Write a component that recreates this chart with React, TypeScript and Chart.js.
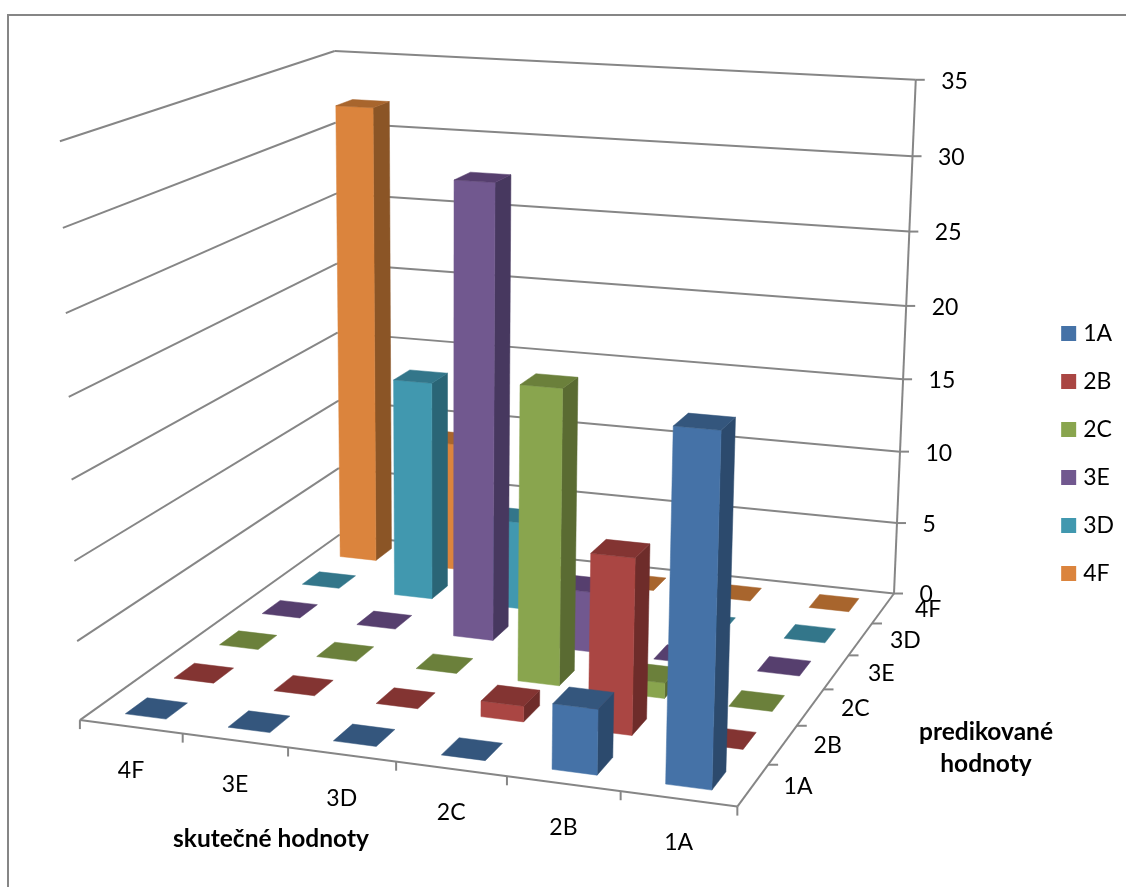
import React, { useEffect, useRef } from "react";
import { Chart, registerables, DatasetController, Element } from "chart.js";

// Columns along the front edge and rows going into the depth of the chart.
const categories = ["4F", "3E", "3D", "2C", "2B", "1A"];
const seriesNames = ["1A", "2B", "2C", "3E", "3D", "4F"];

const values1A = [0, 0, 0, 0, 4, 21];
const values2B = [0, 0, 0, 1, 11, 0];
const values2C = [0, 0, 0, 19, 1, 0];
const values3E = [0, 0, 30, 4, 0, 0];
const values3D = [0, 15, 6, 0, 0, 0];
const values4F = [32, 9, 0, 0, 0, 0];
const seriesValues = [values1A, values2B, values2C, values3E, values3D, values4F];

const faceColors = ["#4572A7", "#AA4643", "#89A54E", "#71588F", "#4198AF", "#DB843D"];
const topColors = ["#34567D", "#833432", "#6B803B", "#563F6E", "#33768A", "#A8652D"];
const sideColors = ["#2C4A6D", "#6E2C2A", "#5A6B32", "#47385F", "#2A6576", "#8B5526"];

const valueMax = 35;
const valueStep = 5;
const xTitle = "skutečné hodnoty";
const depthTitle = ["predikované", "hodnoty"];

const FONT = "Lato";
const GRID = "#868686";
const BAR_FILL_X = 0.4;
const BAR_SHIFT_X = 0.001;
const BAR_FILL_D = 0.44;

// Where the corners of the unit box land on the canvas; the camera is fitted to them.
const boxCorners: number[][] = [
  [0, 0, 0, 82, 720],
  [1, 0, 0, 737, 807],
  [1, 1, 0, 895, 593],
  [0, 1, 0, 337, 535],
  [0, 0, 1, 58, 141],
  [0, 1, 1, 337, 51],
  [1, 1, 1, 915, 80],
];

function solve(a: number[][], b: number[]): number[] {
  const n = b.length;
  const m = a.map((r, i) => [...r, b[i]]);
  for (let c = 0; c < n; c++) {
    let p = c;
    for (let r = c + 1; r < n; r++) if (Math.abs(m[r][c]) > Math.abs(m[p][c])) p = r;
    [m[c], m[p]] = [m[p], m[c]];
    for (let r = 0; r < n; r++) {
      if (r === c) continue;
      const f = m[r][c] / m[c][c];
      for (let k = c; k <= n; k++) m[r][k] -= f * m[c][k];
    }
  }
  return m.map((r, i) => r[n] / r[i]);
}

// Least-squares projective camera: p holds the 11 free terms of the 3x4 matrix.
function fitCamera(points: number[][]): number[] {
  const rows: number[][] = [];
  const rhs: number[] = [];
  for (const [x, y, z, u, v] of points) {
    rows.push([x, y, z, 1, 0, 0, 0, 0, -u * x, -u * y, -u * z]);
    rhs.push(u);
    rows.push([0, 0, 0, 0, x, y, z, 1, -v * x, -v * y, -v * z]);
    rhs.push(v);
  }
  const ata = Array.from({ length: 11 }, (_, i) =>
    Array.from({ length: 11 }, (_, j) => rows.reduce((s, r) => s + r[i] * r[j], 0))
  );
  const atb = Array.from({ length: 11 }, (_, i) => rows.reduce((s, r, k) => s + r[i] * rhs[k], 0));
  return solve(ata, atb);
}

const cam = fitCamera(boxCorners);

function project(x: number, y: number, z: number): [number, number] {
  const w = cam[8] * x + cam[9] * y + cam[10] * z + 1;
  return [
    (cam[0] * x + cam[1] * y + cam[2] * z + cam[3]) / w,
    (cam[4] * x + cam[5] * y + cam[6] * z + cam[7]) / w,
  ];
}

// Scale readings as fractions of the box, so that the scales stay the source of every position.
const unitX = (s: any, v: number) => (s.getPixelForValue(v) - s.left) / s.width;
const unitZ = (s: any, v: number) => (s.bottom - s.getPixelForValue(v)) / s.height;

function fillPoly(ctx: CanvasRenderingContext2D, pts: [number, number][], color: string) {
  ctx.beginPath();
  pts.forEach(([a, b], i) => (i ? ctx.lineTo(a, b) : ctx.moveTo(a, b)));
  ctx.closePath();
  ctx.fillStyle = color;
  ctx.fill();
  ctx.strokeStyle = color;
  ctx.lineWidth = 0.5;
  ctx.stroke();
}

class Prism3D extends Element {
  static id = "prism3d";
  static defaults = {};
  faces: { pts: [number, number][]; color: string }[] = [];
  draw(ctx: CanvasRenderingContext2D) {
    ctx.save();
    for (const f of this.faces) fillPoly(ctx, f.pts, f.color);
    ctx.restore();
  }
}

class Bar3DController extends DatasetController {
  static id = "bar3d";
  static defaults = { dataElementType: "prism3d", datasetElementType: false };
  update() {
    const chart: any = this.chart;
    const { x: xs, y: ys, depth: ds } = chart.scales;
    const row = this.index;
    const meta: any = this.getMeta();
    const halfX = (BAR_FILL_X / 2) * (unitX(xs, 1) - unitX(xs, 0));
    const halfD = (BAR_FILL_D / 2) * (unitX(ds, 1) - unitX(ds, 0));
    const dc = unitX(ds, row);
    meta.data.forEach((el: any, i: number) => {
      const parsed = meta._parsed[i];
      const xc = unitX(xs, parsed.x) + BAR_SHIFT_X;
      const h = unitZ(ys, parsed.y);
      const x0 = xc - halfX, x1 = xc + halfX, d0 = dc - halfD, d1 = dc + halfD;
      const faces: { pts: [number, number][]; color: string }[] = [];
      if (h > 0) {
        faces.push({
          pts: [project(x1, d0, 0), project(x1, d1, 0), project(x1, d1, h), project(x1, d0, h)],
          color: sideColors[row],
        });
        faces.push({
          pts: [project(x0, d0, 0), project(x1, d0, 0), project(x1, d0, h), project(x0, d0, h)],
          color: faceColors[row],
        });
      }
      faces.push({
        pts: [project(x0, d0, h), project(x1, d0, h), project(x1, d1, h), project(x0, d1, h)],
        color: topColors[row],
      });
      el.faces = faces;
    });
  }
}

const line = (ctx: CanvasRenderingContext2D, a: [number, number], b: [number, number]) => {
  ctx.beginPath();
  ctx.moveTo(a[0], a[1]);
  ctx.lineTo(b[0], b[1]);
  ctx.stroke();
};

// Frame, walls, floor edges and tick marks, all behind the bars.
const boxPlugin = {
  id: "box3d",
  beforeDatasetsDraw(chart: any) {
    const { ctx, scales } = chart;
    const { x: xs, y: ys, depth: ds } = scales;
    ctx.save();
    ctx.strokeStyle = GRID;
    ctx.lineCap = "butt";
    ctx.lineWidth = 2;
    ctx.beginPath();
    ctx.moveTo(8, 887);
    ctx.lineTo(8, 15);
    ctx.lineTo(1126, 15);
    ctx.stroke();

    for (const t of ys.ticks) {
      const z = unitZ(ys, t.value);
      line(ctx, project(0, 0, z), project(0, 1, z));
      line(ctx, project(0, 1, z), project(1, 1, z));
      const p = project(1, 1, z);
      line(ctx, p, [p[0] + 9, p[1]]);
    }
    line(ctx, project(1, 1, 0), project(1, 1, 1));
    line(ctx, project(0, 0, 0), project(1, 0, 0));
    line(ctx, project(1, 0, 0), project(1, 1, 0));

    const bandX = unitX(xs, 1) - unitX(xs, 0);
    const bandD = unitX(ds, 1) - unitX(ds, 0);
    for (let i = 0; i <= categories.length; i++) {
      const p = project(unitX(xs, i) - bandX / 2, 0, 0);
      line(ctx, p, [p[0], p[1] + 9]);
    }
    for (let i = 1; i < seriesNames.length; i++) {
      const p = project(1, unitX(ds, i) - bandD / 2, 0);
      line(ctx, p, [p[0] + 10, p[1]]);
    }
    ctx.restore();
  },
  afterDatasetsDraw(chart: any) {
    const { ctx, scales } = chart;
    const { x: xs, y: ys, depth: ds } = scales;
    ctx.save();
    ctx.fillStyle = "#000";
    ctx.textBaseline = "middle";
    ctx.font = `23px ${FONT}`;
    ctx.textAlign = "left";
    for (const t of ys.ticks) {
      const p = project(1, 1, unitZ(ys, t.value));
      ctx.fillText(String(t.value), p[0] + 25.5, p[1] + 1.5);
    }
    ctx.textAlign = "center";
    categories.forEach((c, i) => {
      const p = project(unitX(xs, i), 0, 0);
      ctx.fillText(c, p[0], p[1] + 44);
    });
    seriesNames.forEach((c, i) => {
      const p = project(1, unitX(ds, i), 0);
      ctx.fillText(c, p[0] + 45, p[1] + 1);
    });
    ctx.font = `bold 24.5px ${FONT}`;
    ctx.fillText(xTitle, 271, 839);
    ctx.fillText(depthTitle[0], 986, 732);
    ctx.fillText(depthTitle[1], 986, 764);
    ctx.restore();
  },
};

Chart.register(...registerables, Bar3DController, Prism3D);

export default function App() {
  const ref = useRef<HTMLCanvasElement>(null);
  useEffect(() => {
    const chart = new Chart(ref.current!, {
      type: "bar3d" as any,
      data: {
        labels: categories,
        datasets: seriesNames.map((name, i) => ({
          label: name,
          data: seriesValues[i],
          backgroundColor: faceColors[i],
          clip: false,
        })) as any,
      },
      plugins: [boxPlugin],
      options: {
        animation: false,
        responsive: false,
        events: [],
        layout: { padding: { top: 20, bottom: 0, left: 0, right: 2 } },
        scales: {
          x: { type: "category", display: false, offset: true },
          y: { type: "linear", display: false, min: 0, max: valueMax, ticks: { stepSize: valueStep } },
          depth: { axis: "x", type: "category", labels: seriesNames, display: false, offset: true },
        },
        plugins: {
          tooltip: { enabled: false },
          legend: {
            position: "right",
            labels: {
              boxWidth: 6,
              boxHeight: 6,
              padding: 25,
              color: "#000",
              font: { family: FONT, size: 23 },
              generateLabels: () =>
                seriesNames.map((name, i) => ({
                  text: name,
                  fillStyle: faceColors[i],
                  strokeStyle: faceColors[i],
                  lineWidth: 9,
                  datasetIndex: i,
                  hidden: false,
                })),
            },
          },
        },
      } as any,
    });
    return () => chart.destroy();
  }, []);
  return (
    <div style={{ position: "absolute", left: 0, top: 0, width: 1126, height: 887, background: "#fff" }}>
      <canvas ref={ref} width={1126} height={887} style={{ display: "block" }} />
    </div>
  );
}
